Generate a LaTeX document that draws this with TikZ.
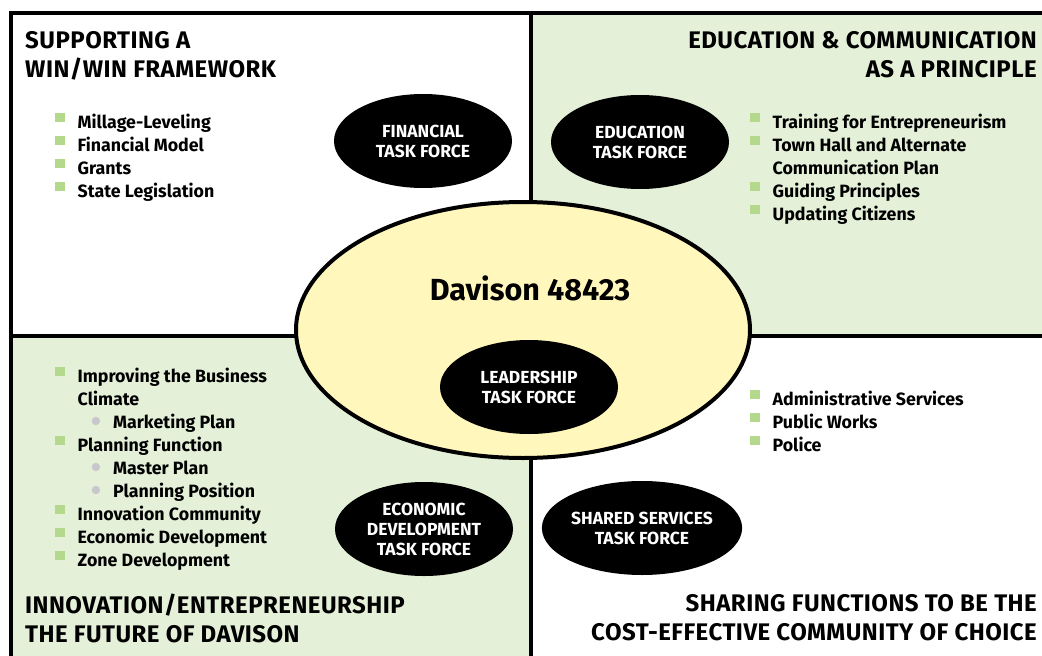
\documentclass[tikz,border=0pt]{standalone}
\usepackage{fontspec}
\setmainfont{Fira Sans}
\usetikzlibrary{shapes.geometric,positioning}
\definecolor{panelgreen}{HTML}{E4F0D8}
\definecolor{bulletgreen}{HTML}{B5D98C}
\definecolor{ovalyellow}{HTML}{FFF7BC}
\definecolor{subgray}{HTML}{C8C8CC}
\newcommand{\sqbullet}{\textcolor{bulletgreen}{\rule[6pt]{9.5pt}{9.5pt}}}
\newcommand{\subbullet}{\tikz[baseline=-7pt]\fill[subgray] (0,0) circle (4.2pt);}
\tikzset{
  taskforce/.style={ellipse, fill=black, text=white, inner sep=0pt, minimum width=178pt, minimum height=94pt, align=center, font=\bfseries\fontsize{17.5}{20}\selectfont},
  heading/.style={inner sep=0pt, font=\bfseries\fontsize{24}{29}\selectfont\addfontfeatures{LetterSpace=2}},
  itemlist/.style={inner sep=0pt, anchor=base west, font=\bfseries\fontsize{17.8}{23}\selectfont},
  border/.style={line width=4pt},
}
\begin{document}
\begin{tikzpicture}[x=1pt, y=-1pt]
\useasboundingbox (0,0) rectangle (1042,656);
\fill[panelgreen] (531,13) rectangle (1042,336);
\fill[panelgreen] (11,336) rectangle (531,656);
\draw[border] (11,656) -- (11,13) -- (1042,13);
\draw[border] (531,13) -- (531,656);
\draw[border] (11,336) -- (1042,336);
\node (winwin) [heading, anchor=north west, align=left] at (25,31) {SUPPORTING A\\WIN/WIN FRAMEWORK};
\node (educom) [heading, anchor=north east, align=right] at (1037,31) {EDUCATION \& COMMUNICATION\\AS A PRINCIPLE};
\node (innov) [heading, anchor=north west, align=left] at (25,594) {INNOVATION/ENTREPRENEURSHIP\\THE FUTURE OF DAVISON};
\node (sharing) [heading, anchor=north east, align=right] at (1037,594) {SHARING FUNCTIONS TO BE THE\\COST-EFFECTIVE COMMUNITY OF CHOICE};
\node (winlist) [itemlist] at (55,128) {\begin{tabular}[t]{@{}l@{\hspace{13pt}}l@{}}
\sqbullet & Millage-Leveling\\
\sqbullet & Financial Model\\
\sqbullet & Grants\\
\sqbullet & State Legislation
\end{tabular}};
\node (edulist) [itemlist] at (750,128) {\begin{tabular}[t]{@{}l@{\hspace{13pt}}l@{}}
\sqbullet & Training for Entrepreneurism\\
\sqbullet & Town Hall and Alternate\\
 & Communication Plan\\
\sqbullet & Guiding Principles\\
\sqbullet & Updating Citizens
\end{tabular}};
\node (innlist) [itemlist] at (55,382) {\begin{tabular}[t]{@{}l@{\hspace{13pt}}l@{}}
\sqbullet & Improving the Business\\
 & Climate\\
 & \hspace{14pt}\subbullet\hspace{13pt}Marketing Plan\\
\sqbullet & Planning Function\\
 & \hspace{14pt}\subbullet\hspace{13pt}Master Plan\\
 & \hspace{14pt}\subbullet\hspace{13pt}Planning Position\\
\sqbullet & Innovation Community\\
\sqbullet & Economic Development\\
\sqbullet & Zone Development
\end{tabular}};
\node (shrlist) [itemlist] at (750,405) {\begin{tabular}[t]{@{}l@{\hspace{13pt}}l@{}}
\sqbullet & Administrative Services\\
\sqbullet & Public Works\\
\sqbullet & Police
\end{tabular}};
\node (davison) [ellipse, draw, line width=4pt, fill=ovalyellow, minimum width=454pt, minimum height=256pt, inner sep=0pt] at (523,330) {};
\node (davtitle) [inner sep=0pt, font=\bfseries\fontsize{30.5}{36}\selectfont] at (530,288) {Davison 48423};
\node (financial) [taskforce] at (423,141) {FINANCIAL\\TASK FORCE};
\node (education) [taskforce] at (640,142) {EDUCATION\\TASK FORCE};
\node (leadership) [taskforce] at (529,387) {LEADERSHIP\\TASK FORCE};
\node (economic) [taskforce] at (424,529) {ECONOMIC\\DEVELOPMENT\\TASK FORCE};
\node (shared) [taskforce] at (642,528) {SHARED SERVICES\\TASK FORCE};
\end{tikzpicture}
\end{document}
